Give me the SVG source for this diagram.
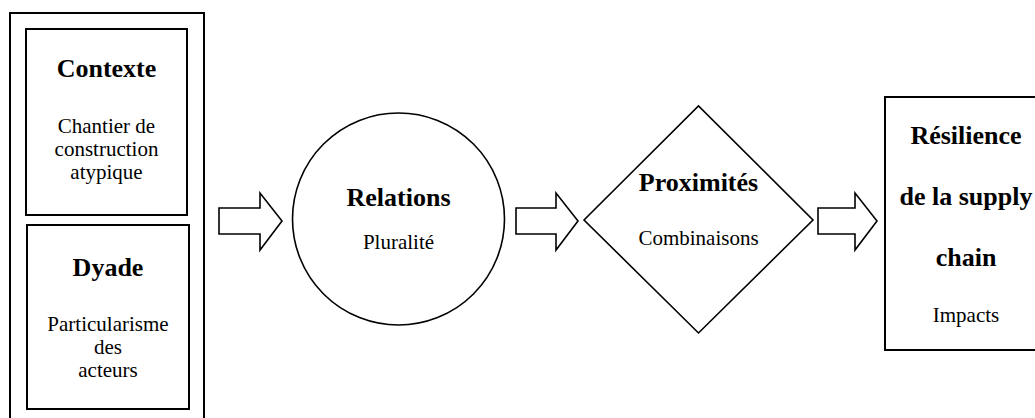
<svg xmlns="http://www.w3.org/2000/svg" width="1035" height="418" viewBox="0 0 1035 418">
<style>
.shape{fill:#fff;stroke:#000;stroke-width:1.6}
.box{fill:#fff;stroke:#000;stroke-width:2}
.t{font-family:"Liberation Serif","Times New Roman",serif;fill:#000;text-anchor:middle}
.h{font-size:26px;font-weight:bold}
.b{font-size:21px}
</style>
<rect x="0" y="0" width="1035" height="418" fill="#fff"/>
<g id="panel">
<rect class="box" x="10" y="13" width="194" height="430"/>
</g>
<g id="contexte">
<rect class="box" x="26" y="29" width="161" height="186"/>
<text class="t h" x="106.5" y="77">Contexte</text>
<text class="t b" x="106.5" y="133">Chantier de</text>
<text class="t b" x="106.5" y="156">construction</text>
<text class="t b" x="106.5" y="179">atypique</text>
</g>
<g id="dyade">
<rect class="box" x="27" y="225" width="162" height="184"/>
<text class="t h" x="108" y="276">Dyade</text>
<text class="t b" x="108" y="331">Particularisme</text>
<text class="t b" x="108" y="354">des</text>
<text class="t b" x="108" y="377">acteurs</text>
</g>
<g id="relations">
<circle class="shape" cx="398.5" cy="219" r="106"/>
<text class="t h" x="398.5" y="206">Relations</text>
<text class="t b" x="398.5" y="249">Pluralité</text>
</g>
<g id="proximites">
<polygon class="shape" points="584,220 698.5,106 813,220 698.5,333"/>
<text class="t h" x="698.5" y="191">Proximités</text>
<text class="t b" x="698.5" y="245">Combinaisons</text>
</g>
<g id="resilience">
<rect class="box" x="885" y="97" width="162" height="253"/>
<text class="t h" x="966" y="144">Résilience</text>
<text class="t h" x="966" y="205">de la supply</text>
<text class="t h" x="966" y="266">chain</text>
<text class="t b" x="966" y="322">Impacts</text>
</g>
<g id="connectors">
<polygon class="shape" points="219,208 260,208 260,193 282,221 260,250 260,234 219,234"/>
<polygon class="shape" points="516,208 556,208 556,193 578,221 556,250 556,234 516,234"/>
<polygon class="shape" points="818,208 855,208 855,193 877,221 855,250 855,234 818,234"/>
</g>
</svg>
